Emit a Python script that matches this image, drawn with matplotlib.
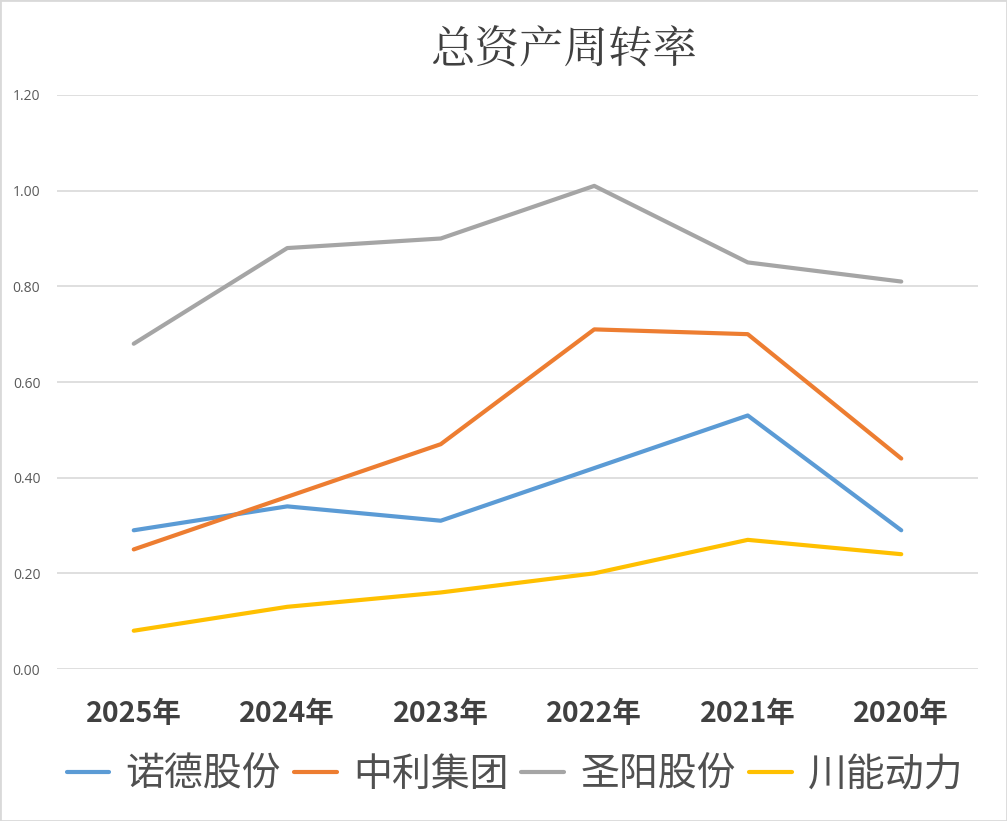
import matplotlib.pyplot as plt
from matplotlib.patches import Rectangle

plt.rcParams['font.family'] = ['Noto Sans CJK SC', 'DejaVu Sans']

years = ['2025年', '2024年', '2023年', '2022年', '2021年', '2020年']
nuode = [0.29, 0.34, 0.31, 0.42, 0.53, 0.29]
zhongli = [0.25, 0.36, 0.47, 0.71, 0.70, 0.44]
shengyang = [0.68, 0.88, 0.90, 1.01, 0.85, 0.81]
chuanneng = [0.08, 0.13, 0.16, 0.20, 0.27, 0.24]

names = ['诺德股份', '中利集团', '圣阳股份', '川能动力']
colors = ['#5B9BD5', '#ED7D31', '#A5A5A5', '#FFC000']
yticks = [0.0, 0.2, 0.4, 0.6, 0.8, 1.0, 1.2]

fig = plt.figure(figsize=(10.07, 8.21), dpi=100)
ax = fig.add_axes([57 / 1007, (821 - 669) / 821, 921 / 1007, (669 - 95) / 821])

x = list(range(len(years)))
for vals, name, c in zip([nuode, zhongli, shengyang, chuanneng], names, colors):
    ax.plot(x, vals, color=c, lw=3.0, label=name, solid_capstyle='round')

ax.set_xlim(-0.5, len(years) - 0.5)
ax.set_ylim(0, 1.2)
ax.set_yticks(yticks)
ax.set_yticklabels([f'{v:.2f}' for v in yticks], fontsize=10, color='#595959',
                   family=['Open Sans', 'DejaVu Sans'])
ax.set_xticks(x)
ax.set_xticklabels(years, fontsize=20.5, fontweight='bold', color='#404040')
ax.tick_params(axis='both', length=0)
ax.tick_params(axis='y', pad=12)
ax.tick_params(axis='x', pad=22)
ax.grid(axis='y', color='#D9D9D9', lw=1.2)
ax.set_axisbelow(True)
for s in ax.spines.values():
    s.set_visible(False)

fig.text(564 / 1007, 1 - 52 / 821, '总资产周转率', fontsize=32, color='#404040',
         fontweight='medium', ha='center', va='center',
         family=['Noto Serif CJK SC', 'Noto Sans CJK SC'])

leg = fig.legend(loc='center', bbox_to_anchor=(515 / 1007, 1 - 775 / 821), ncol=4,
                 frameon=False, fontsize=28, handlelength=1.1, handletextpad=0.42,
                 columnspacing=0.33)
for t in leg.get_texts():
    t.set_color('#505050')

fig.patches.append(Rectangle((0, 0), 1, 1, transform=fig.transFigure, fill=False,
                             edgecolor='#D9D9D9', lw=2))

fig.savefig('out.png', dpi=100)
